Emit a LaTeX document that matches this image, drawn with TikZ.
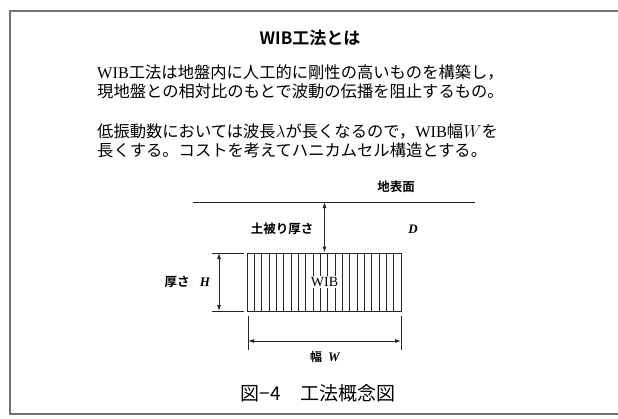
\documentclass[tikz,border=0pt]{standalone}
\usepackage{fontspec}
\setmainfont{Liberation Serif}
\newfontfamily\jp{Noto Sans CJK JP}[BoldFont={Noto Sans CJK JP Bold}]
\usetikzlibrary{arrows.meta}
\begin{document}
\begin{tikzpicture}[x=1pt,y=-1pt,
  frameline/.style={draw=black!55,line width=1.3pt},
  thin/.style={draw=black!85,line width=0.8pt},
  dimarrow/.style={draw=black!85,line width=0.8pt,{Latex[length=6pt,width=4pt]}-{Latex[length=6pt,width=4pt]}},
  bodytext/.style={anchor=west,inner sep=0pt,font=\fontsize{16.3}{19}\selectfont},
  lbl/.style={inner sep=0pt,font=\jp\bfseries\fontsize{12.5}{14}\selectfont},
  box/.style={draw=black!85,line width=0.8pt,minimum width=154pt,minimum height=58pt,inner sep=0pt}]
\useasboundingbox (0,0) rectangle (618,418);
% frame
\draw[frameline] (620,11) -- (10,11) -- (10,414) -- (620,414);
% title
\node (title) at (310,38) {\jp\bfseries\fontsize{17}{19}\selectfont WIB工法とは};
% body text
\node[bodytext] (l1) at (97,72) {WIB{\jp 工法は地盤内に人工的に剛性の高いものを構築し，}};
\node[bodytext] (l2) at (97,91) {\jp 現地盤との相対比のもとで波動の伝播を阻止するもの。};
\node[bodytext] (l3) at (97,131) {{\jp 低振動数においては波長}$\lambda${\jp が長くなるので，}WIB{\jp 幅}$W${\jp を}};
\node[bodytext] (l4) at (97,150) {\jp 長くする。コストを考えてハニカムセル構造とする。};
% ground
\coordinate (gl) at (193,202);
\coordinate (gr) at (475,202);
\draw[thin] (gl) -- (gr);
\node[lbl] (surface) at (396,187) {地表面};
% WIB block
\node[box] (wib) at (324.5,282) {};
\foreach \i in {1,...,20}{
  \draw[thin,line width=0.7pt] ([xshift=\i*154/21]wib.north west) -- ([xshift=\i*154/21]wib.south west);
}
\node[inner sep=1pt,fill=white,font=\fontsize{14}{15}\selectfont] (wibl) at (wib.center) {WIB};
% cover depth
\draw[dimarrow] (wib.north |- gl) -- (wib.north);
\node[lbl] (cover) at (282,229) {土被り厚さ};
\node[inner sep=0pt,font=\fontsize{13}{14}\selectfont\itshape\bfseries] (dl) at (413,229) {D};
% height
\coordinate (h1a) at (212,253); \coordinate (h1b) at (244,253);
\coordinate (h2a) at (212,311); \coordinate (h2b) at (244,311);
\draw[thin] (h1a) -- (h1b);
\draw[thin] (h2a) -- (h2b);
\coordinate (ha) at (219,253); \coordinate (hb) at (219,311);
\draw[dimarrow] (ha) -- (hb);
\node[lbl] (hl) at (177,282) {厚さ};
\node[inner sep=0pt,font=\fontsize{13}{14}\selectfont\itshape\bfseries] (hh) at (205,282) {H};
% width
\coordinate (w1a) at (248,316); \coordinate (w1b) at (248,350);
\coordinate (w2a) at (401,316); \coordinate (w2b) at (401,350);
\draw[thin] (w1a) -- (w1b);
\draw[thin] (w2a) -- (w2b);
\coordinate (wa) at (248,341); \coordinate (wb) at (401,341);
\draw[dimarrow] (wa) -- (wb);
\node[inner sep=0pt] (wl) at (325,357) {{\jp\bfseries\fontsize{12}{14}\selectfont 幅}\hspace{6pt}{\fontsize{13}{14}\selectfont\itshape\bfseries W}};
% caption
\node[inner sep=0pt] (cap) at (318,393) {\jp\fontsize{19}{21}\selectfont 図−4\hspace{20pt}工法概念図};
\end{tikzpicture}
\end{document}
